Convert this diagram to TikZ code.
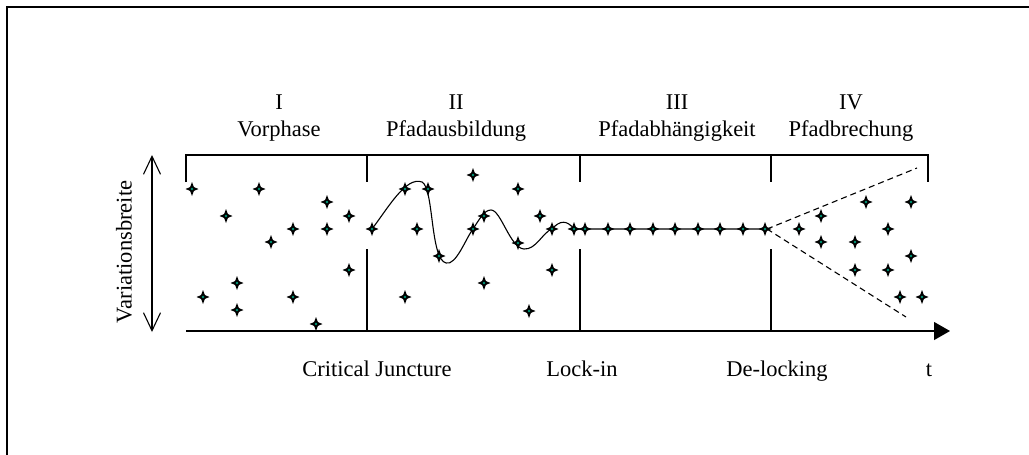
\documentclass[tikz,border=0pt]{standalone}
\usepackage{fontspec}
\setmainfont{Liberation Serif}
\usetikzlibrary{arrows.meta}
\definecolor{mkteal}{RGB}{0,150,120}
\tikzset{
  frame/.style={line width=2pt},
  ln/.style={line width=1.1pt},
  lbl/.style={font=\fontsize{22.5}{26}\selectfont, inner sep=0pt},
  mk/.pic={
    \fill[black] (0,-7) -- (1.9,-1.9) -- (6.5,0) -- (1.9,1.9) -- (0,7) -- (-1.9,1.9) -- (-6.5,0) -- (-1.9,-1.9) -- cycle;
    \fill[mkteal] (0,0) circle (1.4);
  }
}
\begin{document}
\begin{tikzpicture}[x=1pt,y=-1pt]
\useasboundingbox (0,0) rectangle (1029,455);
% outer frame
\draw[frame] (7,455) -- (7,7) -- (1029,7);
% bracket
\draw[ln] (186,182) -- (186,155) -- (928,155) -- (928,182);
\foreach \x in {367,580,771} {
  \draw[ln] (\x,155) -- (\x,182);
  \draw[ln] (\x,249) -- (\x,331);
}
% time axis
\coordinate (ax0) at (186,331);
\coordinate (ax1) at (950,331);
\draw[ln,-{Triangle[length=16pt,width=18pt]}] (ax0) -- (ax1);
% Variationsbreite arrow
\coordinate (va) at (152,155);
\coordinate (vb) at (152,332);
\draw[ln,{Straight Barb[length=18pt,width=17pt]}-{Straight Barb[length=18pt,width=17pt]}] (va) -- (vb);
\node[lbl,rotate=90] (vlabel) at (124,252) {Variationsbreite};
% top labels
\node[lbl,anchor=base] (n1) at (279,109) {I};
\node[lbl,anchor=base] (p1) at (279,136) {Vorphase};
\node[lbl,anchor=base] (n2) at (456,109) {II};
\node[lbl,anchor=base] (p2) at (456,136) {Pfadausbildung};
\node[lbl,anchor=base] (n3) at (677,109) {III};
\node[lbl,anchor=base] (p3) at (677,136) {Pfadabhängigkeit};
\node[lbl,anchor=base] (n4) at (851,109) {IV};
\node[lbl,anchor=base] (p4) at (851,136) {Pfadbrechung};
% bottom labels
\node[lbl,anchor=base] (cj) at (377,376) {Critical Juncture};
\node[lbl,anchor=base] (li) at (582,376) {Lock-in};
\node[lbl,anchor=base] (dl) at (777,376) {De-locking};
\node[lbl,anchor=base] (tt) at (929,376) {t};
% path curve
\coordinate (c0) at (372,229);
\coordinate (c1) at (422,182);
\coordinate (c2) at (446,263);
\coordinate (c3) at (473,229);
\coordinate (c4) at (491,210);
\coordinate (c5) at (524,249);
\coordinate (c6) at (552,229);
\coordinate (c7) at (574,229);
\coordinate (c8) at (765,229);
\draw[ln] (c0) .. controls (388,208) and (406,176) .. (c1)
  .. controls (434,188) and (430,259) .. (c2)
  .. controls (456,266) and (466,238) .. (c3)
  .. controls (479,220) and (484,210) .. (c4)
  .. controls (501,210) and (510,248) .. (c5)
  .. controls (536,250) and (543,232) .. (c6)
  .. controls (560,220) and (567,220) .. (c7) -- (c8);
% diverging dashed lines
\coordinate (d0) at (767,229);
\coordinate (du) at (917,168);
\coordinate (dd) at (906,317);
\draw[ln,dash pattern=on 6pt off 4pt] (d0) -- (du);
\draw[ln,dash pattern=on 6pt off 4pt] (d0) -- (dd);
% markers
\foreach \p in {(192,189),(259,189),(226,216),(271,242),(293,229),(327,202),(327,229),(349,216),(349,270),(237,283),(203,297),(237,310),(293,297),(316,324),
(372,229),(405,189),(428,189),(439,256),(417,229),(473,175),(473,229),(484,216),(518,189),(518,243),(540,216),(552,229),(552,270),(484,283),(405,297),(529,311),(574,229),
(585,229),(608,229),(630,229),(653,229),(675,229),(698,229),(720,229),(743,229),(765,229),
(866,202),(911,202),(821,216),(799,229),(888,229),(821,242),(855,242),(911,256),(855,270),(888,270),(900,297),(922,297)}
  \pic at \p {mk};
\end{tikzpicture}
\end{document}
